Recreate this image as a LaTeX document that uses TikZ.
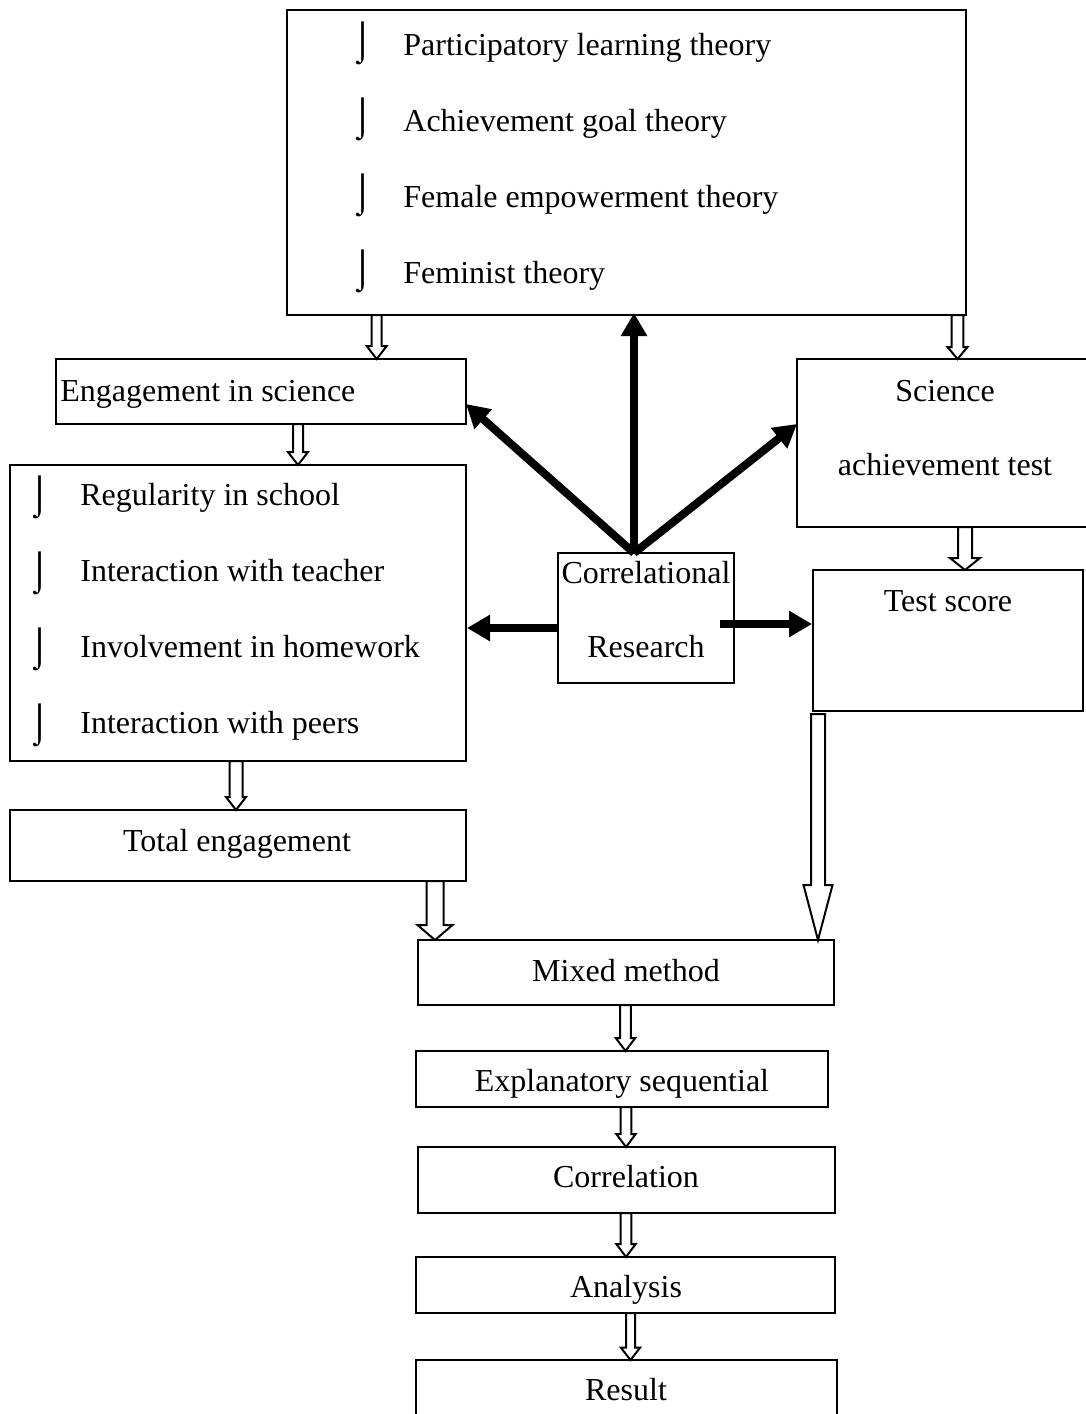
\documentclass[tikz,border=0pt]{standalone}
\usepackage{fontspec}
\setmainfont{Liberation Serif}
\usetikzlibrary{arrows.meta,positioning,fit}
\tikzset{
  box/.style={draw, line width=1pt, inner sep=0pt, fit={#1}},
  txt/.style={inner sep=0pt, anchor=base, font=\fontsize{16}{19}\selectfont},
  ltxt/.style={txt, anchor=base west},
  bul/.style={inner sep=0pt, anchor=center, font=\fontsize{19}{22}\selectfont},
  hollow/.style={draw, fill=white, line width=1pt, line join=miter},
  thick arrow/.style={line width=4pt, -{Triangle[width=12.5pt,length=11.5pt]}}
}
\newcommand\harrow[6]{\draw[hollow] (#1-#4,#2) -- (#1-#4,#3-#6) -- (#1-#5,#3-#6) -- (#1,#3) -- (#1+#5,#3-#6) -- (#1+#4,#3-#6) -- (#1+#4,#2) -- cycle;}
\begin{document}
\begin{tikzpicture}[x=0.5pt,y=-0.5pt]
\useasboundingbox (0,0) rectangle (1086,1414);
\clip (0,0) rectangle (1086,1414);
\fill[white] (0,0) rectangle (1086,1414);
% boxes
\node[box={(287,10) (966,315)}] (theory) {};
\node[box={(56,359) (466,424)}] (eng) {};
\node[box={(797,359) (1095,527)}] (sci) {};
\node[box={(10,465) (466,761)}] (list) {};
\node[box={(558,553) (734,683)}] (corr) {};
\node[box={(813,570) (1083,711)}] (test) {};
\node[box={(10,810) (466,881)}] (total) {};
\node[box={(418,940) (834,1005)}] (mixed) {};
\node[box={(416,1051) (828,1107)}] (expl) {};
\node[box={(418,1147) (835,1213)}] (corrn) {};
\node[box={(416,1257) (835,1313)}] (anal) {};
\node[box={(416,1360) (837,1430)}] (res) {};
% theory texts
\node[bul] (b1) at (363,43) {⌡};
\node[bul] (b2) at (363,119) {⌡};
\node[bul] (b3) at (363,195) {⌡};
\node[bul] (b4) at (363,271) {⌡};
\node[ltxt] (t1) at (403,55) {Participatory learning theory};
\node[ltxt] (t2) at (403,131) {Achievement goal theory};
\node[ltxt] (t3) at (403,207) {Female empowerment theory};
\node[ltxt] (t4) at (403,283) {Feminist theory};
% engagement
\node[ltxt] (engt) at (60,401) {Engagement in science};
\node[txt] (scit1) at (945,401) {Science};
\node[txt] (scit2) at (945,475) {achievement test};
% list
\node[bul] (l1b) at (40,497) {⌡};
\node[bul] (l2b) at (40,573) {⌡};
\node[bul] (l3b) at (40,649) {⌡};
\node[bul] (l4b) at (40,725) {⌡};
\node[ltxt] (l1) at (80,505) {Regularity in school};
\node[ltxt] (l2) at (80,581) {Interaction with teacher};
\node[ltxt] (l3) at (80,657) {Involvement in homework};
\node[ltxt] (l4) at (80,733) {Interaction with peers};
% correlational
\node[txt] (ct1) at (646,583) {Correlational};
\node[txt] (ct2) at (646,657) {Research};
\node[txt] (testt) at (948,611) {Test score};
\node[txt] (totalt) at (237,851) {Total engagement};
\node[txt] (mixedt) at (626,981) {Mixed method};
\node[txt] (explt) at (622,1091) {Explanatory sequential};
\node[txt] (corrnt) at (626,1187) {Correlation};
\node[txt] (analt) at (626,1297) {Analysis};
\node[txt] (rest) at (626,1400) {Result};
% thick arrows
\coordinate (src) at (634,553);
\coordinate (tipup) at (634,313);
\coordinate (tipl) at (466,404);
\coordinate (tipr) at (797,424);
\draw[thick arrow] (src) -- (tipup);
\draw[thick arrow] (src) -- (tipl);
\draw[thick arrow] (src) -- (tipr);
\draw[thick arrow] (corr.west |- 0,628) -- (list.east |- 0,628);
\draw[thick arrow] (720,624) -- (test.west |- 0,624);
% hollow arrows
\harrow{376.7}{315}{359}{5}{10}{13}
\harrow{957.5}{315}{359}{5.8}{10}{12}
\harrow{298}{424}{465}{5}{10}{13}
\harrow{965}{527}{570}{7}{15}{12}
\harrow{236}{761}{810}{6.5}{10}{13}
\harrow{435}{881}{940}{8.5}{17.5}{15}
\harrow{818}{714}{940}{7}{14.5}{55}
\harrow{625.5}{1005}{1051}{5.3}{9.7}{13}
\harrow{626}{1107}{1147}{5.3}{9.7}{13}
\harrow{626}{1213}{1257}{5.3}{9.7}{13}
\harrow{630.5}{1313}{1360}{4.5}{9.7}{12.5}
\end{tikzpicture}
\end{document}
